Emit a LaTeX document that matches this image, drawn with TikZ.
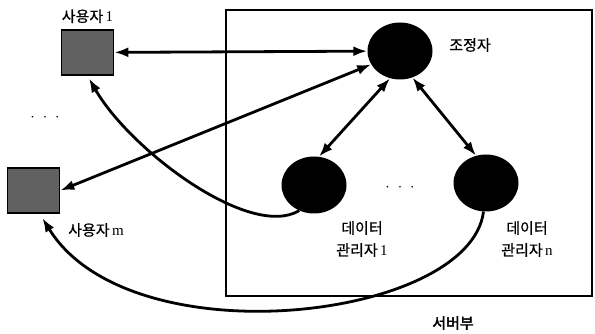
\documentclass[tikz,border=0pt]{standalone}
\usepackage{fontspec}
\setmainfont{Liberation Serif}
\newfontfamily\kr[FakeBold=0.6]{Noto Sans CJK KR}
\newfontfamily\krbold[FakeBold=2]{Noto Sans CJK KR}
\usetikzlibrary{shapes.geometric,arrows.meta,positioning}

\newcommand{\dotrow}{\textbullet\hspace{10pt}\textbullet\hspace{10pt}\textbullet}

\begin{document}
\begin{tikzpicture}[x=1pt, y=-1pt,
  user/.style={rectangle, draw=black, line width=1.6pt, fill=black!62,
               minimum width=52pt, minimum height=45pt, inner sep=0pt},
  proc/.style={ellipse, fill=black, minimum width=65pt, minimum height=57pt,
               inner sep=0pt},
  lbl/.style={font=\fontsize{15}{22}\selectfont, align=center, inner sep=0pt},
  dots/.style={font=\fontsize{7}{7}\selectfont, inner sep=0pt},
  link/.style={draw, line width=2.8pt,
               {Latex[length=14pt,width=10pt]}-{Latex[length=14pt,width=10pt]}},
  back/.style={draw, line width=2.8pt, -{Latex[length=14pt,width=10pt]}},
]
  \useasboundingbox (0,0) rectangle (595,334);

  % Server part
  \node[draw, line width=2.8pt, minimum width=366pt, minimum height=286pt,
        inner sep=0pt] (server) at (409,153) {};
  \node[lbl] (srvlbl) at (453,323) {\krbold 서버부};

  % Users
  \node[user] (user1) at (87.5,52.5) {};
  \node[lbl, above=6pt of user1] (u1lbl) {{\kr 사용자}\,1};
  \node[dots] (udots) at (45,118) {\dotrow};
  \node[user] (userm) at (33.5,190.5) {};
  \node[lbl] (umlbl) at (96,230) {{\kr 사용자}\,m};

  % Coordinator and data managers
  \node[proc] (coord) at (400,51) {};
  \node[lbl] (coordlbl) at (470,45) {\kr 조정자};
  \node[proc] (dm1) at (314,185) {};
  \node[proc] (dmn) at (486,183) {};
  \node[dots] (ddots) at (400,188) {\dotrow};
  \node[lbl] (dm1lbl) at (362,239) {{\kr 데이터}\\{\kr 관리자}\,1};
  \node[lbl] (dmnlbl) at (527,239) {{\kr 데이터}\\{\kr 관리자}\,n};

  % Links
  \draw[link] (user1) -- (coord);
  \draw[link] (userm.east) -- (coord.205);
  \draw[link] (coord.250) -- (dm1.80);
  \draw[link] (coord.295) -- (dmn.110);

  % Replies back to users
  \draw[back, shorten >=3pt] (dm1.240) .. controls (250,240) and (130,150) .. (user1.south);
  \draw[back, shorten >=5pt] (dmn.265) .. controls (470,320) and (130,360) .. (userm.-75);
\end{tikzpicture}
\end{document}
